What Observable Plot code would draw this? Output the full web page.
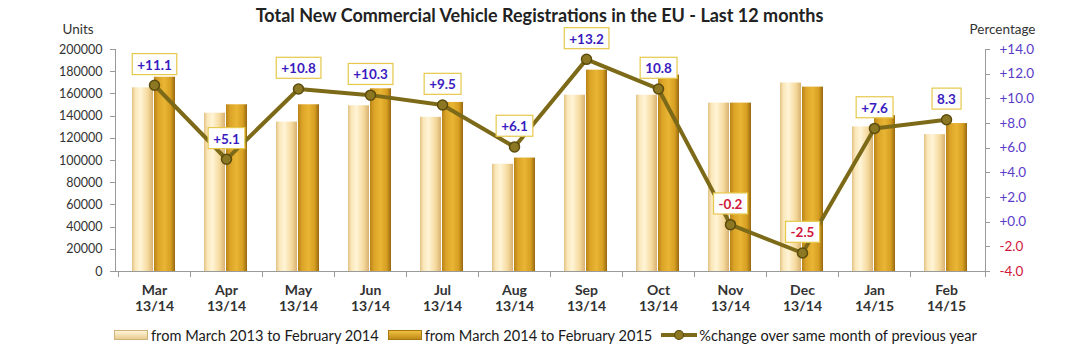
<!DOCTYPE html>
<html><head><meta charset="utf-8">
<script src="https://cdn.jsdelivr.net/npm/d3@7"></script>
<script src="https://cdn.jsdelivr.net/npm/@observablehq/plot@0.6"></script>
<style>
body{margin:0;background:#fff;font-family:Lato,"Open Sans",sans-serif;}
#wrap{position:relative;width:1079px;height:357px;overflow:hidden;}
#title{position:absolute;top:4px;left:0;width:1079px;text-align:center;font-weight:bold;font-size:18px;line-height:22px;color:#222;}
#chart{position:absolute;top:0;left:0;}
#legend{position:absolute;top:326px;left:114px;height:18px;display:flex;align-items:center;font-size:14.6px;color:#1a1a1a;white-space:nowrap;}
.sw{width:32px;height:8px;margin-right:3px;}
.item{display:flex;align-items:center;margin-right:9px;}
</style></head>
<body>
<div id="wrap">
  <div id="chart"></div>
  <div id="title"></div>
  <div id="legend"></div>
</div>
<script>
const titleText = "Total New Commercial Vehicle Registrations in the EU - Last 12 months";
const months = ["Mar","Apr","May","Jun","Jul","Aug","Sep","Oct","Nov","Dec","Jan","Feb"];
const seasons = ["13/14","13/14","13/14","13/14","13/14","13/14","13/14","13/14","13/14","13/14","14/15","14/15"];
const prevYear = [165500,142600,134600,149300,138900,96600,158800,158800,151700,169800,130300,123300];
const currYear = [175000,150200,150200,164600,152300,102200,181400,177000,151700,166100,140400,133300];
const pctChange = [11.1,5.1,10.8,10.3,9.5,6.1,13.2,10.8,-0.2,-2.5,7.6,8.3];
const pctLabels = ["+11.1","+5.1","+10.8","+10.3","+9.5","+6.1","+13.2","10.8","-0.2","-2.5","+7.6","8.3"];
const unitTicks = [0,20000,40000,60000,80000,100000,120000,140000,160000,180000,200000];
const pctTicks = [-4,-2,0,2,4,6,8,10,12,14];
const seriesNames = ["from March 2013 to February 2014","from March 2014 to February 2015","%change over same month of previous year"];
const leftAxisTitle = "Units", rightAxisTitle = "Percentage";

const unitMax = 200000, pctMin = -4, pctMax = 14;
const toU = p => (p - pctMin) / (pctMax - pctMin) * unitMax;
const fmtPct = p => (p < 0 ? "-" : "+") + Math.abs(p).toFixed(1);
const purple = "#5a3cc8", red = "#d0183c", labBlue = "#3a1cbf";
const lineCol = "#7d6a18";

const rows = months.map((m,i) => ({month:m, season:seasons[i], prev:prevYear[i], curr:currYear[i], pct:pctChange[i], label:pctLabels[i]}));

const defs = () => {
  const d = d3.create("svg:defs");
  const mk = (id, stops) => {
    const g = d.append("linearGradient").attr("id", id).attr("x1",0).attr("x2",1).attr("y1",0).attr("y2",0);
    stops.forEach(([o,c]) => g.append("stop").attr("offset", o).attr("stop-color", c));
  };
  mk("gLight", [[0,"#e2c083"],[0.15,"#f9e6b8"],[0.4,"#fff4d6"],[0.75,"#f5d99c"],[1,"#d6b272"]]);
  mk("gDark", [[0,"#b88418"],[0.2,"#dca428"],[0.5,"#e9b534"],[0.8,"#d69e22"],[1,"#96690e"]]);
  return d.node();
};

const axesMark = (index, {x, y}, values, dims) => {
  const g = d3.create("svg:g").attr("stroke","#9a9a9a").attr("fill","none").attr("stroke-width",1);
  const L = dims.marginLeft, R = dims.width - dims.marginRight, T = dims.marginTop, B = dims.height - dims.marginBottom;
  const ln = (x1,y1,x2,y2) => g.append("line").attr("x1",x1).attr("y1",y1).attr("x2",x2).attr("y2",y2);
  ln(L+0.5,T,L+0.5,B); ln(R+0.5,T,R+0.5,B); ln(L,B+0.5,R,B+0.5);
  unitTicks.forEach(t => ln(L-5, Math.round(y(t))+0.5, L, Math.round(y(t))+0.5));
  pctTicks.forEach(p => ln(R, Math.round(y(toU(p)))+0.5, R+5, Math.round(y(toU(p)))+0.5));
  months.forEach(m => { const xx = Math.round(x(m))+0.5; ln(xx,B,xx,B+6); });
  ln(R+0.5,B,R+0.5,B+6);
  return g.node();
};

const plot = Plot.plot({
  width: 1079, height: 318,
  marginLeft: 115, marginRight: 94, marginTop: 49, marginBottom: 47,
  style: {fontFamily: "Lato, sans-serif", background: "transparent", overflow: "visible"},
  x: {domain: months, padding: 0, axis: null},
  y: {domain: [0, unitMax], axis: null},
  color: {type: "identity"},
  marks: [
    defs,
    Plot.barY(rows, {x: "month", y: "prev", fill: "url(#gLight)", insetLeft: 14, insetRight: 37}),
    Plot.barY(rows, {x: "month", y: "curr", fill: "url(#gDark)", insetLeft: 36, insetRight: 15}),
    axesMark,
    Plot.axisY({ticks: unitTicks, tickFormat: d => String(d), tickSize: 0, tickPadding: 13, fontSize: 12.5, color: "#333", label: null}),
    Plot.text(pctTicks, {y: p => toU(p), text: p => fmtPct(p), frameAnchor: "right", textAnchor: "start", dx: 14, fill: p => p < 0 ? red : purple, fontSize: 13.5}),
    Plot.text(rows, {x: "month", text: d => d.month + "\n" + d.season, frameAnchor: "bottom", lineAnchor: "top", dy: 12, fontWeight: "bold", fontSize: 14, lineHeight: 1.15, fill: "#333"}),
    Plot.text([leftAxisTitle], {frameAnchor: "top-left", dx: -53, dy: -25, fontSize: 13.5, fill: "#333", textAnchor: "start"}),
    Plot.text([rightAxisTitle], {frameAnchor: "top-right", dx: 17, dy: -25, fontSize: 13.5, fill: "#333", textAnchor: "middle"}),
    Plot.line(rows, {x: "month", y: d => toU(d.pct), stroke: lineCol, strokeWidth: 4}),
    Plot.dot(rows, {x: "month", y: d => toU(d.pct), r: 5, fill: "#8c7722", stroke: "#5c4c0e", strokeWidth: 1.5}),
    Plot.text(rows, {x: "month", y: d => toU(d.pct), text: "label", dy: -20, fill: d => d.pct < 0 ? red : labBlue, fontWeight: "bold", fontSize: 13.5, className: "pctlab"})
  ]
});
document.getElementById("chart").appendChild(plot);
document.getElementById("title").textContent = titleText;

// boxes behind the percentage labels
d3.select(plot).selectAll("g.pctlab text").each(function() {
  const bb = this.getBBox();
  const r = document.createElementNS("http://www.w3.org/2000/svg", "rect");
  r.setAttribute("x", bb.x - 5); r.setAttribute("y", bb.y - 3);
  r.setAttribute("width", bb.width + 10); r.setAttribute("height", bb.height + 5);
  r.setAttribute("fill", "#fff"); r.setAttribute("stroke", "#e6c84a"); r.setAttribute("stroke-width", 1.2);
  const t = this.getAttribute("transform"); if (t) r.setAttribute("transform", t);
  this.parentNode.insertBefore(r, this);
});

// legend
const leg = document.getElementById("legend");
const addItem = (sym, name) => {
  const it = document.createElement("div"); it.className = "item";
  it.appendChild(sym);
  const s = document.createElement("span"); s.textContent = name; it.appendChild(s);
  leg.appendChild(it);
};
const sw1 = document.createElement("div"); sw1.className = "sw"; sw1.style.background = "linear-gradient(#fff4d6,#e8cc90)"; sw1.style.border = "1px solid #cfb27a";
const sw2 = document.createElement("div"); sw2.className = "sw"; sw2.style.background = "linear-gradient(#f0c040,#c08a18)"; sw2.style.border = "1px solid #a87810";
const lsym = d3.create("svg").attr("width", 36).attr("height", 12).style("margin-right","2px");
lsym.append("line").attr("x1",0).attr("x2",36).attr("y1",6).attr("y2",6).attr("stroke",lineCol).attr("stroke-width",4);
lsym.append("circle").attr("cx",18).attr("cy",6).attr("r",4.5).attr("fill","#8c7722").attr("stroke","#5c4c0e").attr("stroke-width",1.2);
addItem(sw1, seriesNames[0]);
addItem(sw2, seriesNames[1]);
addItem(lsym.node(), seriesNames[2]);
</script>
</body></html>
